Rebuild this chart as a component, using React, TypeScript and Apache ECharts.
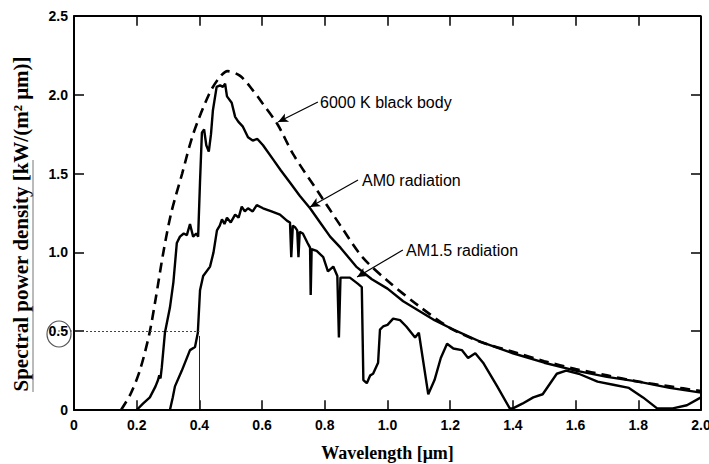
import React, { useEffect, useRef } from "react";
import * as echarts from "echarts";

const xTicks = [0, 0.2, 0.4, 0.6, 0.8, 1.0, 1.2, 1.4, 1.6, 1.8, 2.0];
const yTicks = [0, 0.5, 1.0, 1.5, 2.0, 2.5];

const blackBody: [number, number][] = [
  [0.15, 0], [0.18, 0.1], [0.21, 0.25], [0.24, 0.48], [0.26, 0.7], [0.285, 1.0],
  [0.31, 1.25], [0.345, 1.5], [0.38, 1.75], [0.43, 2.0], [0.46, 2.1], [0.49, 2.15],
  [0.53, 2.12], [0.57, 2.03], [0.6, 1.95], [0.65, 1.81], [0.7, 1.62], [0.78, 1.38],
  [0.85, 1.17], [0.92, 0.97], [1.0, 0.82], [1.1, 0.66], [1.2, 0.52], [1.3, 0.43],
  [1.4, 0.37], [1.5, 0.31], [1.6, 0.26], [1.7, 0.22], [1.8, 0.18], [1.9, 0.15], [2.0, 0.12],
];

const am0: [number, number][] = [
  [0.2, 0], [0.22, 0.04], [0.242, 0.08], [0.26, 0.15], [0.268, 0.19], [0.272, 0.22],
  [0.276, 0.2], [0.28, 0.27], [0.29, 0.49], [0.306, 0.65], [0.317, 0.81], [0.328, 1.06],
  [0.338, 1.1], [0.35, 1.12], [0.36, 1.11], [0.37, 1.18], [0.38, 1.1], [0.39, 1.12],
  [0.396, 1.1], [0.402, 1.45], [0.408, 1.76], [0.415, 1.78], [0.422, 1.68], [0.43, 1.64],
  [0.437, 1.75], [0.443, 1.9], [0.455, 2.05], [0.466, 2.06], [0.475, 2.05], [0.482, 2.07],
  [0.488, 1.99], [0.503, 1.95], [0.514, 1.86], [0.524, 1.83], [0.538, 1.8], [0.555, 1.73],
  [0.57, 1.71], [0.585, 1.72], [0.603, 1.68], [0.635, 1.59], [0.66, 1.52], [0.69, 1.44],
  [0.72, 1.36], [0.753, 1.28], [0.785, 1.19], [0.817, 1.1], [0.85, 1.03], [0.9, 0.91],
  [0.95, 0.83], [1.0, 0.77], [1.05, 0.69], [1.1, 0.63], [1.15, 0.57], [1.2, 0.52],
  [1.3, 0.43], [1.4, 0.36], [1.5, 0.3], [1.6, 0.25], [1.7, 0.21], [1.8, 0.18],
  [1.9, 0.14], [2.0, 0.11],
];

const am15: [number, number][] = [
  [0.306, 0], [0.315, 0.08], [0.322, 0.15], [0.344, 0.25], [0.37, 0.38], [0.386, 0.4],
  [0.395, 0.49], [0.402, 0.76], [0.412, 0.85], [0.434, 0.91], [0.445, 1.0], [0.456, 1.14],
  [0.465, 1.17], [0.472, 1.21], [0.48, 1.18], [0.488, 1.22], [0.5, 1.19], [0.514, 1.24],
  [0.525, 1.22], [0.535, 1.29], [0.545, 1.26], [0.555, 1.28], [0.57, 1.26], [0.583, 1.3],
  [0.603, 1.28], [0.63, 1.26], [0.657, 1.24], [0.68, 1.2], [0.689, 1.19], [0.693, 0.97],
  [0.698, 1.17], [0.705, 1.16], [0.712, 1.14], [0.716, 0.97], [0.72, 1.13], [0.73, 1.12],
  [0.745, 1.06], [0.753, 1.03], [0.755, 0.73], [0.758, 1.02], [0.774, 1.01], [0.795, 0.97],
  [0.81, 0.88], [0.827, 0.91], [0.84, 0.85], [0.845, 0.46], [0.85, 0.84], [0.858, 0.84],
  [0.88, 0.84], [0.906, 0.8], [0.918, 0.78], [0.923, 0.19], [0.934, 0.17], [0.945, 0.22],
  [0.954, 0.23], [0.97, 0.3], [0.976, 0.51], [0.986, 0.53], [1.0, 0.54], [1.018, 0.58],
  [1.04, 0.57], [1.06, 0.53], [1.088, 0.46], [1.1, 0.49], [1.13, 0.1], [1.15, 0.19],
  [1.17, 0.33], [1.19, 0.42], [1.21, 0.39], [1.237, 0.38], [1.257, 0.33], [1.28, 0.36],
  [1.305, 0.3], [1.35, 0.15], [1.39, 0.01], [1.4, 0.01], [1.43, 0.04], [1.465, 0.08],
  [1.495, 0.1], [1.54, 0.23], [1.57, 0.25], [1.61, 0.23], [1.67, 0.18], [1.72, 0.16],
  [1.77, 0.14], [1.815, 0.08], [1.86, 0.01], [1.91, 0.01], [1.955, 0.03], [2.0, 0.08],
];

// annotation arrows: [from, to] in data units
const arrowBB: [number, number][] = [[0.778, 1.954], [0.651, 1.827]];
const arrowAM0: [number, number][] = [[0.906, 1.459], [0.753, 1.288]];
const arrowAM15: [number, number][] = [[1.049, 1.015], [0.903, 0.844]];

const labelBB = "6000 K black body";
const labelAM0 = "AM0 radiation";
const labelAM15 = "AM1.5 radiation";
const yTitle = "Spectral power density [kW/(m² μm)]";
const xTitle = "Wavelength [μm]";

const fmt = (v: number) => (v === 0 ? "0" : v.toFixed(1));

export default function App() {
  const ref = useRef<HTMLDivElement>(null);
  useEffect(() => {
    if (!ref.current) return;
    const chart = echarts.init(ref.current, undefined, { renderer: "svg" });
    const arrowLine = (pts: [number, number][]) => [
      { coord: pts[0], symbol: "none" },
      { coord: pts[1], symbol: "arrow" },
    ];
    const annFont = '16px "Liberation Sans"';

    const xMin = xTicks[0], xMax = xTicks[xTicks.length - 1];
    const yMin = yTicks[0], yMax = yTicks[yTicks.length - 1];
    // frame outline, drawn as a series along the axis extremes
    const frameData: [number, number][] = [[xMin, yMin], [xMax, yMin], [xMax, yMax], [xMin, yMax], [xMin, yMin]];
    // inside tick marks (about 10 px long) on all four sides
    const tx = (xMax - xMin) * 0.016;
    const ty = (yMax - yMin) * 0.025;
    const tickSegs: any[] = [];
    xTicks.forEach((t) => {
      tickSegs.push([{ coord: [t, yMin] }, { coord: [t, yMin + ty] }]);
      tickSegs.push([{ coord: [t, yMax] }, { coord: [t, yMax - ty] }]);
    });
    yTicks.forEach((t) => {
      tickSegs.push([{ coord: [xMin, t] }, { coord: [xMin + tx, t] }]);
      tickSegs.push([{ coord: [xMax, t] }, { coord: [xMax - tx, t] }]);
    });

    chart.setOption({
      animation: false,
      grid: { left: 74, right: 8, top: 16, bottom: 54, outerBoundsMode: "none" },
      xAxis: {
        type: "value",
        min: xMin, max: xMax, interval: 0.2,
        axisLine: { show: true, onZero: false, lineStyle: { color: "#000", width: 2 } },
        axisTick: { show: false },
        splitLine: { show: false },
        axisLabel: { fontFamily: "Liberation Sans", fontWeight: "bold", fontSize: 14, color: "#000", margin: 8, formatter: fmt },
        name: xTitle,
        nameLocation: "middle",
        nameGap: 34,
        nameTextStyle: { fontFamily: "Liberation Serif", fontWeight: "bold", fontSize: 18, color: "#000" },
      },
      yAxis: {
        type: "value",
        min: yMin, max: yMax, interval: 0.5,
        axisLine: { show: true, onZero: false, lineStyle: { color: "#000", width: 2 } },
        axisTick: { show: false },
        splitLine: { show: false },
        axisLabel: { fontFamily: "Liberation Sans", fontWeight: "bold", fontSize: 14, color: "#000", margin: 6, formatter: fmt },
      },
      series: [
        {
          type: "line",
          name: "frame",
          data: frameData,
          showSymbol: false,
          clip: false,
          silent: true,
          z: 5,
          lineStyle: { color: "#000", width: 2 },
          markLine: {
            silent: true,
            symbol: "none",
            label: { show: false },
            lineStyle: { color: "#000", width: 1.5, type: "solid" },
            data: tickSegs,
          },
        },
        {
          type: "line",
          name: "6000 K black body",
          data: blackBody,
          showSymbol: false,
          smooth: 0.3,
          lineStyle: { color: "#000", width: 2.6, type: [10, 6] },
          markLine: {
            silent: true,
            symbolSize: [7, 10],
            label: { show: false },
            lineStyle: { color: "#000", width: 1.2, type: "solid" },
            data: [arrowLine(arrowBB), arrowLine(arrowAM0), arrowLine(arrowAM15)],
          },
        },
        {
          type: "line",
          name: "AM0 radiation",
          data: am0,
          showSymbol: false,
          lineStyle: { color: "#000", width: 2.4 },
        },
        {
          type: "line",
          name: "AM1.5 radiation",
          data: am15,
          showSymbol: false,
          lineStyle: { color: "#000", width: 2.4 },
          markLine: {
            silent: true,
            symbol: "none",
            label: { show: false },
            data: [
              [
                { coord: [0, 0.5], lineStyle: { color: "#444", width: 1, type: [2, 2] } },
                { coord: [0.4, 0.5] },
              ],
              [
                { coord: [0.4, 0], lineStyle: { color: "#222", width: 1, type: "solid" } },
                { coord: [0.4, 0.47] },
              ],
            ],
          },
        },
      ],
      graphic: [
        {
          type: "text",
          x: 21,
          y: 224,
          rotation: Math.PI / 2,
          style: {
            text: yTitle,
            font: 'bold 21px "Liberation Serif"',
            fill: "#000",
            textAlign: "center",
            textVerticalAlign: "middle",
            align: "center",
            verticalAlign: "middle",
          },
        },
        { type: "line", shape: { x1: 33, y1: 160, x2: 33, y2: 392 }, style: { stroke: "#777", lineWidth: 1 } },
        { type: "line", shape: { x1: 50, y1: 331, x2: 74, y2: 331 }, style: { stroke: "#555", lineWidth: 1, lineDash: [2, 2] } },
        { type: "ellipse", shape: { cx: 59, cy: 334, rx: 12, ry: 13 }, style: { stroke: "#555", fill: "none", lineWidth: 1.2 } },
        {
          type: "text", x: 320, y: 102,
          style: { text: labelBB, font: annFont, fill: "#000", textVerticalAlign: "middle", verticalAlign: "middle" },
        },
        {
          type: "text", x: 362, y: 180,
          style: { text: labelAM0, font: annFont, fill: "#000", textVerticalAlign: "middle", verticalAlign: "middle" },
        },
        {
          type: "text", x: 406, y: 250,
          style: { text: labelAM15, font: annFont, fill: "#000", textVerticalAlign: "middle", verticalAlign: "middle" },
        },
      ],
    });
    return () => chart.dispose();
  }, []);
  return <div ref={ref} style={{ width: 709, height: 464, position: "absolute", left: 0, top: 0 }} />;
}
